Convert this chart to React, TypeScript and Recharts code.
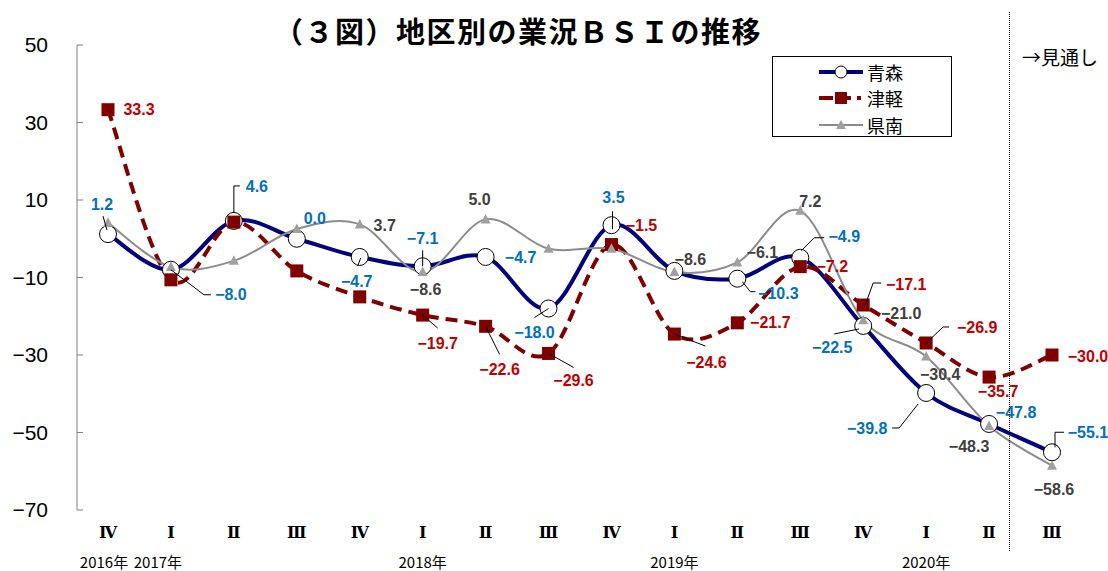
import React from 'react';
import { LineChart, Line, XAxis, YAxis, Legend, LabelList } from 'recharts';

// ---------- data ----------
const periods = ['2016Q4', '2017Q1', '2017Q2', '2017Q3', '2017Q4', '2018Q1', '2018Q2', '2018Q3', '2018Q4', '2019Q1', '2019Q2', '2019Q3', '2019Q4', '2020Q1', '2020Q2', '2020Q3'];
const quarterLabels = ['Ⅳ', 'Ⅰ', 'Ⅱ', 'Ⅲ', 'Ⅳ', 'Ⅰ', 'Ⅱ', 'Ⅲ', 'Ⅳ', 'Ⅰ', 'Ⅱ', 'Ⅲ', 'Ⅳ', 'Ⅰ', 'Ⅱ', 'Ⅲ'];
const yearLabels = ['2016年', '2017年', '', '', '', '2018年', '', '', '', '2019年', '', '', '', '2020年', '', ''];
const aomori = [1.2, -8.0, 4.6, 0.0, -4.7, -7.1, -4.7, -18.0, 3.5, -8.3, -10.3, -4.9, -22.5, -39.8, -47.8, -55.1];
const tsugaru = [33.3, -10.6, 4.3, -8.3, -15.0, -19.7, -22.6, -29.6, -1.5, -24.6, -21.7, -7.2, -17.1, -26.9, -35.7, -30.0];
const kennan = [4.1, -7.3, -5.7, 2.5, 3.7, -8.6, 5.0, -2.6, -2.6, -8.6, -6.1, 7.2, -21.0, -30.4, -48.3, -58.6];
const seriesNames = ['青森', '津軽', '県南'];
const yTicks = [50, 30, 10, -10, -30, -50, -70];
const titleText = '（３図）地区別の業況ＢＳＩの推移';
const outlookText = '→見通し';

const data = periods.map((p, i) => ({ period: p, aomori: aomori[i], tsugaru: tsugaru[i], kennan: kennan[i] }));

// ---------- label layout (presentation only) ----------
type Lay = { dx: number; dy: number; lead?: number[][] } | null;
const aomoriLay: Lay[] = [
  { dx: -6, dy: -30, lead: [[-5, -18], [-1, -4]] },
  { dx: 60, dy: 25, lead: [[0, 0], [33, 25], [40, 25]] },
  { dx: 23, dy: -34, lead: [[0, -8], [0, -35], [6, -35]] },
  { dx: 18, dy: -20 },
  { dx: -3, dy: 25, lead: [[-2, 9], [1, 1]] },
  { dx: 0, dy: -28, lead: [[0, -16], [0, 0]] },
  { dx: 35, dy: 1 },
  { dx: -14, dy: 24, lead: [[-14, 9], [0, 0]] },
  { dx: 2, dy: -28, lead: [[1, -14], [1, 4]] },
  null,
  { dx: 41, dy: 15, lead: [[5, 3], [13, 13], [18, 13]] },
  { dx: 44, dy: -21, lead: [[1, -7], [14, -20], [24, -20]] },
  { dx: -31, dy: 22, lead: [[-29, 8], [-4, 3]] },
  { dx: -59, dy: 36, lead: [[-34, 35], [-27, 35], [-8, 11]] },
  { dx: 27, dy: -11 },
  { dx: 36, dy: -20, lead: [[3, -5], [3, -20], [12, -20]] },
];
const tsugaruLay: Lay[] = [
  { dx: 31, dy: 0 },
  null, null, null, null,
  { dx: 15, dy: 28, lead: [[0, 0], [15, 13]] },
  { dx: 14, dy: 43, lead: [[0, 0], [14, 28]] },
  { dx: 25, dy: 27, lead: [[0, 0], [25, 14]] },
  { dx: 30, dy: -19 },
  { dx: 32, dy: 28, lead: [[0, 0], [31, 12]] },
  { dx: 33, dy: 0 },
  { dx: 32, dy: 0 },
  { dx: 43, dy: -21, lead: [[2, 0], [10, -22], [18, -22]] },
  { dx: 51, dy: -15, lead: [[0, 0], [17, -16], [23, -16]] },
  { dx: 9, dy: 14 },
  { dx: 36, dy: 1 },
];
const kennanLay: Lay[] = [
  null, null, null, null,
  { dx: 25, dy: 1 },
  { dx: 3, dy: 17 },
  { dx: -6, dy: -20 },
  null, null,
  { dx: 16, dy: -13 },
  { dx: 25, dy: -10 },
  { dx: 10, dy: -9 },
  { dx: 38, dy: -7 },
  { dx: 14, dy: 18 },
  { dx: -20, dy: 21 },
  { dx: 2, dy: 24 },
];
const yearShift = [-4, -13, 0, 0, 0, 0, 0, 0, 0, 0, 0, 0, 0, 0, 0, 0];

const NAVY = '#000080';
const MAROON = '#800000';
const GRAY = '#8c8c8c';
const JP = '"Noto Sans CJK JP", sans-serif';
const SANS = '"Liberation Sans", Arial, sans-serif';

const fmt = (v: number) => (v < 0 ? '\u2212' : '') + Math.abs(v).toFixed(1);

// Excel-like smooth curve (Catmull-Rom as cubic Bezier)
const smoothCurve: any = (context: any) => {
  let pts: number[][] = [];
  return {
    areaStart() {},
    areaEnd() {},
    lineStart() { pts = []; },
    lineEnd() {
      if (!pts.length) return;
      context.moveTo(pts[0][0], pts[0][1]);
      for (let i = 0; i < pts.length - 1; i++) {
        const p0 = pts[i - 1] || pts[i];
        const p1 = pts[i];
        const p2 = pts[i + 1];
        const p3 = pts[i + 2] || pts[i + 1];
        context.bezierCurveTo(
          p1[0] + (p2[0] - p0[0]) / 6, p1[1] + (p2[1] - p0[1]) / 6,
          p2[0] - (p3[0] - p1[0]) / 6, p2[1] - (p3[1] - p1[1]) / 6,
          p2[0], p2[1]
        );
      }
    },
    point(x: number, y: number) { pts.push([+x, +y]); },
  };
};

const makeLabel = (lay: Lay[], values: number[], color: string) => (props: any) => {
  const idx = props.index;
  const cfg = lay[idx];
  if (!cfg) return null;
  const vb = props.viewBox || {};
  const x = typeof props.x === 'number' ? props.x : vb.x;
  const y = typeof props.y === 'number' ? props.y : vb.y;
  if (typeof x !== 'number' || typeof y !== 'number') return null;
  return (
    <g key={`lb-${idx}`}>
      {cfg.lead && (
        <polyline
          points={cfg.lead.map(([a, b]) => `${x + a},${y + b}`).join(' ')}
          fill="none"
          stroke="#000"
          strokeWidth={1}
        />
      )}
      <text
        x={x + cfg.dx}
        y={y + cfg.dy}
        textAnchor="middle"
        dominantBaseline="central"
        fill={color}
        fontSize={16}
        fontWeight="bold"
        fontFamily={SANS}
      >
        {fmt(values[idx])}
      </text>
    </g>
  );
};

const circleDot = (p: any) => (
  <circle key={`c-${p.index}`} cx={p.cx} cy={p.cy} r={8.5} fill="#fff" stroke="#000" strokeWidth={1} />
);
const squareDot = (p: any) => (
  <rect key={`s-${p.index}`} x={p.cx - 6.5} y={p.cy - 6.5} width={13} height={13} fill={MAROON} />
);
const triDot = (p: any) => (
  <polygon
    key={`t-${p.index}`}
    points={`${p.cx},${p.cy - 5.5} ${p.cx + 5},${p.cy + 4} ${p.cx - 5},${p.cy + 4}`}
    fill="#a0a0a0"
  />
);

const XTick = (props: any) => {
  const { x, y } = props;
  const i = props.payload?.index ?? props.index ?? 0;
  return (
    <g>
      <text x={x} y={y + 22} textAnchor="middle" dominantBaseline="central" fontSize={16} fontWeight="bold" fontFamily='"DejaVu Serif", serif' fill="#000">
        {quarterLabels[i]}
      </text>
      {yearLabels[i] && (
        <text x={x + yearShift[i]} y={y + 51} textAnchor="middle" dominantBaseline="central" fontSize={15} fontFamily={JP} fill="#000">
          {yearLabels[i]}
        </text>
      )}
    </g>
  );
};

const legendIcon = (i: number) => {
  if (i === 0)
    return (
      <svg width={44} height={16}>
        <line x1={0} y1={8} x2={44} y2={8} stroke={NAVY} strokeWidth={4} />
        <circle cx={22} cy={8} r={6} fill="#fff" stroke="#000" strokeWidth={1} />
      </svg>
    );
  if (i === 1)
    return (
      <svg width={44} height={16}>
        <line x1={0} y1={8} x2={14} y2={8} stroke={MAROON} strokeWidth={4} />
        <rect x={16} y={2} width={12} height={12} fill={MAROON} />
        <line x1={28} y1={8} x2={32} y2={8} stroke={MAROON} strokeWidth={4} />
        <line x1={38} y1={8} x2={42} y2={8} stroke={MAROON} strokeWidth={4} />
      </svg>
    );
  return (
    <svg width={44} height={16}>
      <line x1={0} y1={8} x2={44} y2={8} stroke={GRAY} strokeWidth={2} />
      <polygon points="22,3 27,12 17,12" fill="#a0a0a0" />
    </svg>
  );
};

const legendTops = [3, 29, 56];
const LegendBox = () => (
  <div
    style={{
      position: 'relative',
      width: 180,
      height: 81,
      border: '1px solid #000',
      boxSizing: 'border-box',
      background: '#fff',
    }}
  >
    {seriesNames.map((n, i) => (
      <div key={n} style={{ position: 'absolute', left: 46, top: legendTops[i], height: 24, display: 'flex', alignItems: 'center' }}>
        {legendIcon(i)}
        <span style={{ marginLeft: 4, fontSize: 18, fontFamily: JP, lineHeight: '24px', color: '#000' }}>{n}</span>
      </div>
    ))}
  </div>
);

export default function App() {
  return (
    <div style={{ position: 'absolute', left: 0, top: 0, width: 1108, height: 571, background: '#fff' }}>
      <LineChart width={1108} height={571} data={data} margin={{ top: 45, right: 25, bottom: 0, left: 0 }}>
        <XAxis
          dataKey="period"
          axisLine={false}
          tickLine={false}
          tickSize={0}
          tickMargin={0}
          interval={0}
          height={61}
          padding={{ left: 31, right: 31 }}
          tick={<XTick />}
        />
        <YAxis
          domain={[-70, 50]}
          ticks={yTicks}
          width={77}
          tickSize={-6}
          tickMargin={35}
          axisLine={{ stroke: '#808080', strokeWidth: 1 }}
          tickLine={{ stroke: '#808080', strokeWidth: 1 }}
          tick={{ fontSize: 21, fill: '#000', fontFamily: SANS }}
          tickFormatter={(v: number) => (v < 0 ? '\u2212' + Math.abs(v) : String(v))}
          allowDataOverflow
        />
        <Legend
          layout="vertical"
          align="center"
          verticalAlign="middle"
          content={<LegendBox />}
          wrapperStyle={{ left: 772, top: 56, width: 180, height: 81 }}
        />
        <Line
          name={seriesNames[0]}
          dataKey="aomori"
          type={smoothCurve}
          stroke={NAVY}
          strokeWidth={4}
          dot={circleDot}
          activeDot={false}
          isAnimationActive={false}
        >
          <LabelList dataKey="aomori" content={makeLabel(aomoriLay, aomori, '#0070c0')} />
        </Line>
        <Line
          name={seriesNames[1]}
          dataKey="tsugaru"
          type={smoothCurve}
          stroke={MAROON}
          strokeWidth={4}
          strokeDasharray="12 7"
          dot={squareDot}
          activeDot={false}
          isAnimationActive={false}
        >
          <LabelList dataKey="tsugaru" content={makeLabel(tsugaruLay, tsugaru, '#c00000')} />
        </Line>
        <Line
          name={seriesNames[2]}
          dataKey="kennan"
          type={smoothCurve}
          stroke={GRAY}
          strokeWidth={2}
          dot={triDot}
          activeDot={false}
          isAnimationActive={false}
        >
          <LabelList dataKey="kennan" content={makeLabel(kennanLay, kennan, '#404040')} />
        </Line>
      </LineChart>
      <div
        style={{
          position: 'absolute',
          left: 0,
          top: 15,
          width: 1036,
          textAlign: 'center',
          fontSize: 29,
          fontWeight: 'bold',
          letterSpacing: 1.5,
          lineHeight: '30px',
          fontFamily: JP,
          color: '#000',
        }}
      >
        {titleText}
      </div>
      <div style={{ position: 'absolute', left: 1022, top: 45, fontSize: 19, lineHeight: '24px', fontFamily: JP, color: '#000' }}>
        {outlookText}
      </div>
      <div style={{ position: 'absolute', left: 1009, top: 12, height: 539, width: 0, borderLeft: '1px dotted #000' }} />
    </div>
  );
}
